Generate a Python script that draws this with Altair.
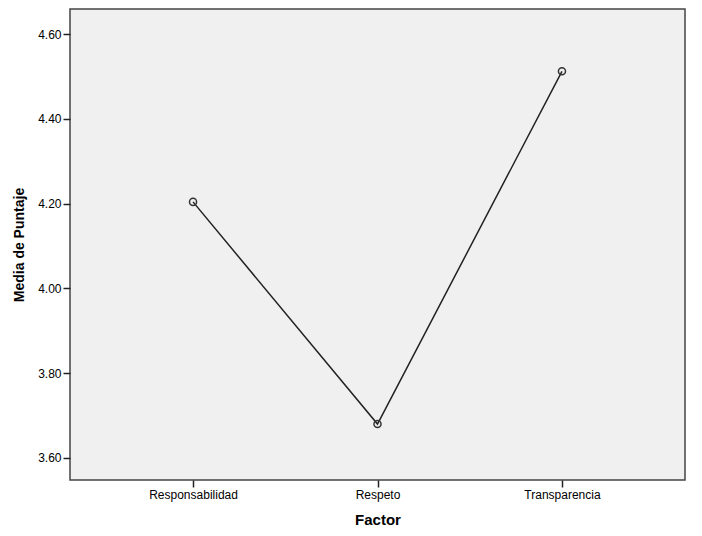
import altair as alt
import pandas as pd

factors = ["Responsabilidad", "Respeto", "Transparencia"]
means = [4.204, 3.680, 4.512]
y_ticks = [3.60, 3.80, 4.00, 4.20, 4.40, 4.60]

df = pd.DataFrame({"Factor": factors, "Media": means})

x = alt.X("Factor:N", sort=factors,
          scale=alt.Scale(type="point", padding=0.667),
          axis=alt.Axis(title="Factor", labelAngle=0, labelFontSize=12,
                        labelFont="Liberation Sans", titleFont="Liberation Sans",
                        titleFontSize=15, titleFontWeight="bold", titlePadding=12,
                        tickSize=7, tickColor="#222", tickWidth=1.5, domain=False,
                        labelPadding=2, labelColor="#000", titleColor="#000", grid=False))
y = alt.Y("Media:Q",
          scale=alt.Scale(domain=[3.548, 4.659], nice=False, zero=False),
          axis=alt.Axis(title="Media de Puntaje", values=y_ticks, format=".2f",
                        labelFontSize=12, labelFont="Liberation Sans",
                        titleFont="Liberation Sans", titleFontSize=14,
                        titleFontWeight="bold", titlePadding=11, tickSize=7,
                        tickColor="#222", tickWidth=1.5, domain=False, labelPadding=2,
                        labelColor="#000", titleColor="#000", grid=False))

line = alt.Chart(df).mark_line(color="#222", strokeWidth=1.5).encode(x=x, y=y)
pts = alt.Chart(df).mark_point(shape="circle", filled=False, size=50,
                               color="#333", strokeWidth=1.5, opacity=1).encode(x=x, y=y)

chart = (line + pts).properties(
    width=615, height=471,
    autosize=alt.AutoSizeParams(type="none"),
    padding={"left": 62, "top": 1, "right": 5, "bottom": 50},
    background="white",
).configure_view(fill="#f0f0f0", stroke="#444", strokeWidth=1.5)

chart.save("out.html", embed_options={"renderer": "svg", "actions": False})
